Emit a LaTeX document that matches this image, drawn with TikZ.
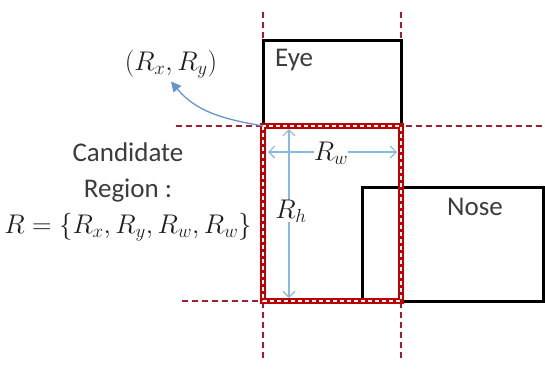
\documentclass[tikz,border=0pt]{standalone}
\usepackage{fix-cm}
\usepackage{fontspec}
\setmainfont{Carlito}
\usetikzlibrary{arrows.meta}

\definecolor{guidered}{RGB}{160,30,45}
\definecolor{regred}{RGB}{192,0,0}
\definecolor{dimblue}{RGB}{135,185,225}
\definecolor{curveblue}{RGB}{100,150,205}
\definecolor{labgray}{RGB}{60,60,60}
\definecolor{mathgray}{RGB}{30,30,30}

\begin{document}
\begin{tikzpicture}[
  x=1pt, y=-1pt,
  font=\fontsize{27}{36}\selectfont,
  every node/.style={align=center, text=labgray},
  %% --- styles ---
  guide/.style={draw=guidered, line width=1.1pt, dash pattern=on 6pt off 4pt},
  partbox/.style={draw=black, line width=3pt},
  regionbox/.style={draw=regred, line width=6.5pt},
  regiondash/.style={draw=white, line width=1.1pt, dash pattern=on 4pt off 3pt},
  dimarr/.style={{Straight Barb[length=6pt,width=12pt]}-{Straight Barb[length=6pt,width=12pt]}, draw=dimblue, line width=1.2pt},
  cornerarr/.style={-{Triangle[length=10pt,width=10pt]}, draw=curveblue, line width=1.3pt},
  dimlab/.style={fill=white, inner sep=0pt, text=mathgray},
  mathlab/.style={text=mathgray}
]
  \useasboundingbox (0,0) rectangle (545,368);

  %% corners of the candidate region
  \coordinate (tl) at (263,126);
  \coordinate (tr) at (401,126);
  \coordinate (bl) at (263,301);
  \coordinate (br) at (401,301);

  %% guide lines
  \draw[guide] (263,12) coordinate (gl1) -- (263,360) coordinate (gl2);
  \draw[guide] (401,12) coordinate (gr1) -- (401,360) coordinate (gr2);
  \draw[guide] (176,126) coordinate (gt1) -- (545,126) coordinate (gt2);
  \draw[guide] (182,301) coordinate (gb1) -- (545,301) coordinate (gb2);

  %% eye and nose
  \draw[partbox] (tl) -- (263,40) coordinate (eyetl) -- (401,40) coordinate (eyetr) -- (tr);
  \node[anchor=base west, inner sep=0pt] (eye) at (275,66) {Eye};
  \draw[partbox] (362,301) rectangle (543,187);
  \node[anchor=base west, inner sep=0pt] (nose) at (447,215) {Nose};

  %% candidate region
  \draw[regionbox] (tl) rectangle (br);
  \draw[regiondash] (tl) rectangle (br);

  %% width / height
  \coordinate (wl) at (268,152);
  \coordinate (wr) at (397,152);
  \coordinate (ht) at (289,129);
  \coordinate (hb) at (289,298);
  \draw[dimarr] (wl) -- (wr);
  \draw[dimarr] (ht) -- (hb);
  \node[dimlab] (rw) at (331,153) {$R_w$};
  \node[dimlab] (rh) at (291,211) {$R_h$};

  %% labels on the left
  \node[mathlab] (rxy) at (171,64) {$(R_x,R_y)$};
  \draw[cornerarr] (tl) to[out=170, in=-50] (rxy.south);

  \node (region) at (128,192) {Candidate\\Region :\\\textcolor{mathgray}{$R=\{R_x,R_y,R_w,R_w\}$}};
\end{tikzpicture}
\end{document}
